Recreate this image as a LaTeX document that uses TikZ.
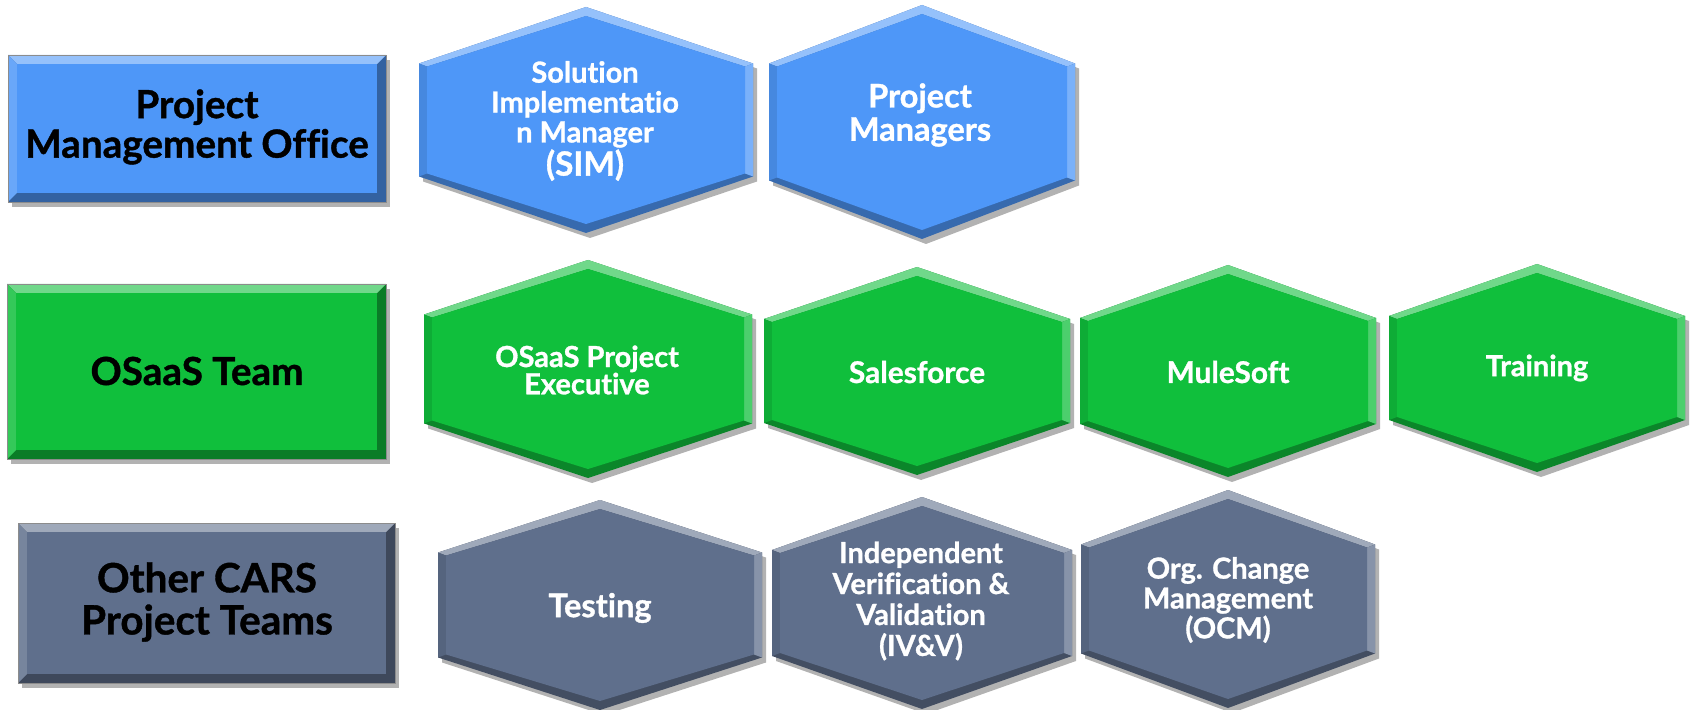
\documentclass[tikz,border=0pt]{standalone}
\usepackage{fontspec}
\setmainfont{Lato}[Ligatures=NoCommon, BoldFeatures={FakeBold=1}]
\usetikzlibrary{calc}

\definecolor{pmoblue}{RGB}{78,151,248}
\definecolor{osgreen}{RGB}{16,191,60}
\definecolor{carsgray}{RGB}{95,111,140}

\tikzset{
  hexlabel/.style={text=white, font=\fontsize{16.5}{17}\selectfont\bfseries, align=center},
  teamlabel/.style={text=black, font=\fontsize{22}{22.5}\selectfont\bfseries, align=center},
}

% outline of a hexagon around the origin: half width, half height
\newcommand{\hexoutline}[2]{(0,-#2) -- (#1,-#2/2) -- (#1,#2/2) -- (0,#2) -- (-#1,#2/2) -- (-#1,-#2/2) -- cycle}

% bevelled hexagon: centre x, centre y, half width, half height, colour
\newcommand{\bevelhex}[5]{%
  \begin{scope}[shift={(#1,#2)}]
    \fill[black,opacity=.3,shift={(4,5)}] \hexoutline{#3}{#4};
    \fill[#5!70!black] \hexoutline{#3}{#4};
    \fill[#5!60!white] (-#3,-#4/2) -- (0,-#4) -- (#3,-#4/2) -- (#3-8,-#4/2+3) -- (0,-#4+9) -- (-#3+8,-#4/2+3) -- cycle;
    \fill[#5!75!white] (#3,-#4/2) -- (#3,#4/2) -- (#3-8,#4/2-3) -- (#3-8,-#4/2+3) -- cycle;
    \fill[#5!90!black] (-#3,-#4/2) -- (-#3,#4/2) -- (-#3+8,#4/2-3) -- (-#3+8,-#4/2+3) -- cycle;
    \fill[#5] (0,-#4+9) -- (#3-8,-#4/2+3) -- (#3-8,#4/2-3) -- (0,#4-9) -- (-#3+8,#4/2-3) -- (-#3+8,-#4/2+3) -- cycle;
  \end{scope}}

% bevelled box: left, top, right, bottom, colour
\newcommand{\bevelrect}[5]{%
  \fill[black,opacity=.3] (#1+4,#2+5) rectangle (#3+4,#4+5);
  \fill[#5!65!black] (#1,#2) rectangle (#3,#4);
  \fill[#5!60!white] (#1,#2) -- (#3,#2) -- (#3-9,#2+9) -- (#1+9,#2+9) -- cycle;
  \fill[#5!85!white] (#1,#2) -- (#1+9,#2+9) -- (#1+9,#4-9) -- (#1,#4) -- cycle;
  \fill[#5] (#1+9,#2+9) rectangle (#3-9,#4-9);
  \draw[black!45,line width=0.4pt] (#1,#2) rectangle (#3,#4);}

\begin{document}
\begin{tikzpicture}[x=0.2mm,y=-0.2mm]

    \useasboundingbox (0,0) rectangle (1694,710);

    % Project Management Office row
    \bevelrect{8}{55}{386}{202}{pmoblue}
    \node[teamlabel] (pmo) at (197,127) {Project\\Management Office};
    \bevelhex{586}{120}{167}{113}{pmoblue}
    \node[hexlabel] (sim) at (585,121) {Solution\\Implementatio\\n Manager\\{\fontsize{19}{19}\selectfont (SIM)}};
    \bevelhex{922}{122}{153}{117}{pmoblue}
    \node[hexlabel, font=\fontsize{18.5}{19}\selectfont\bfseries] (pm) at (920,115) {Project\\Managers};

    % OSaaS row
    \bevelrect{7}{284}{386}{459}{osgreen}
    \node[teamlabel] (osaas) at (197,371) {OSaaS Team};
    \bevelhex{588}{369}{164}{109}{osgreen}
    \node[hexlabel, font=\fontsize{16.5}{15.5}\selectfont\bfseries] (exec) at (587,370) {OSaaS Project\\Executive};
    \bevelhex{917}{371}{153}{104}{osgreen}
    \node[hexlabel, font=\fontsize{17}{17}\selectfont\bfseries] (sf) at (917,372) {Salesforce};
    \bevelhex{1228}{371}{148}{106}{osgreen}
    \node[hexlabel, font=\fontsize{17}{17}\selectfont\bfseries] (mule) at (1228,372) {MuleSoft};
    \bevelhex{1537}{368}{148}{104}{osgreen}
    \node[hexlabel] (train) at (1537,368) {Training};

    % Other CARS row
    \bevelrect{18}{523}{395}{683}{carsgray}
    \node[teamlabel, font=\fontsize{23}{24}\selectfont\bfseries] (cars) at (207,602) {Other CARS\\Project Teams};
    \bevelhex{600}{605}{162}{105}{carsgray}
    \node[hexlabel, font=\fontsize{18.5}{18}\selectfont\bfseries] (test) at (600,608) {Testing};
    \bevelhex{922}{603}{150}{106}{carsgray}
    \node[hexlabel, font=\fontsize{16.5}{17.6}\selectfont\bfseries] (ivv) at (921,601) {Independent\\Verification \&\\Validation\\(IV\&V)};
    \bevelhex{1228}{599}{147}{109}{carsgray}
    \node[hexlabel] (ocm) at (1228,600) {Org. Change\\Management\\(OCM)};

\end{tikzpicture}
\end{document}
